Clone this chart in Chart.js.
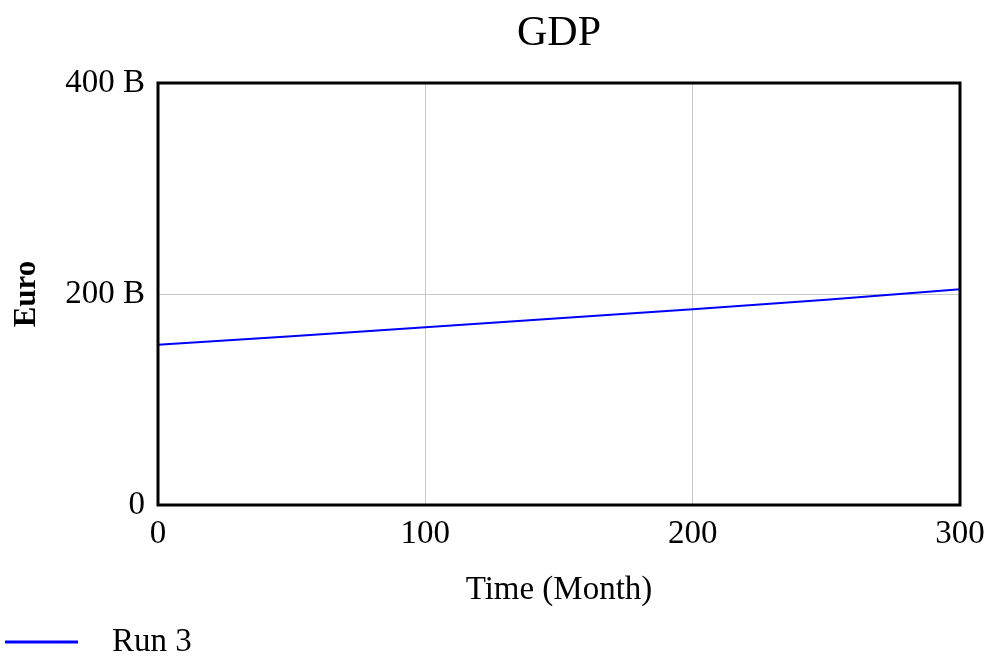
<!DOCTYPE html>
<html>
<head>
<meta charset="utf-8">
<script src="https://cdn.jsdelivr.net/npm/chart.js@4"></script>
<style>
  html, body { margin: 0; padding: 0; background: #fff; }
  #wrap { width: 984px; height: 656px; }
</style>
</head>
<body>
<div id="wrap"><canvas id="gdpChart" width="984" height="656"></canvas></div>
<script>
// valores (miles de millones de euro)
const months = [0, 50, 100, 150, 200, 250, 300];
const gdpRun3 = [152, 160, 168.5, 177, 185.5, 194.5, 204.5];
const xTicks = [0, 100, 200, 300];
const yTicks = [0, 200, 400];
const runLabel = 'Run 3';

const fontFamily = '"Liberation Serif", "Times New Roman", serif';

// marco negro alrededor del area del grafico
const frame = {
    id: 'frame',
    afterDatasetsDraw(chart) {
        const a = chart.chartArea;
        const ctx = chart.ctx;
        ctx.save();
        ctx.strokeStyle = '#000';
        ctx.lineWidth = 3;
        ctx.strokeRect(a.left, a.top, a.right - a.left, a.bottom - a.top);
        ctx.restore();
    }
};

// leyenda abajo a la izquierda
const bottomLegend = {
    id: 'bottomLegend',
    afterDraw(chart) {
        const ctx = chart.ctx;
        const ds = chart.data.datasets[0];
        ctx.save();
        ctx.strokeStyle = ds.borderColor;
        ctx.lineWidth = 3;
        ctx.beginPath();
        ctx.moveTo(5, 642);
        ctx.lineTo(78, 642);
        ctx.stroke();
        ctx.fillStyle = '#000';
        ctx.font = '33px ' + fontFamily;
        ctx.textBaseline = 'middle';
        ctx.fillText(ds.label, 112, 642);
        ctx.restore();
    }
};

const ctx = document.getElementById('gdpChart').getContext('2d');

new Chart(ctx, {
    type: 'line',
    data: {
        datasets: [{
            label: runLabel,
            data: months.map((m, i) => ({ x: m, y: gdpRun3[i] })),
            borderColor: '#0000ff',
            backgroundColor: '#0000ff',
            borderWidth: 2,
            pointRadius: 0,
            tension: 0
        }]
    },
    options: {
        responsive: false,
        animation: false,
        layout: { padding: { left: 0, right: 24, top: 0, bottom: 46 } },
        plugins: {
            legend: { display: false },
            tooltip: { enabled: false },
            title: {
                display: true,
                text: 'GDP',
                fullSize: false,
                color: '#000',
                font: { family: fontFamily, size: 42, weight: 'normal' },
                padding: { top: 9, bottom: 23.6 }
            }
        },
        scales: {
            x: {
                type: 'linear',
                min: 0,
                max: 300,
                afterBuildTicks: scale => { scale.ticks = xTicks.map(v => ({ value: v })); },
                afterFit: scale => {
                    scale.height = 105;
                    scale.paddingLeft = 0;
                    scale.paddingRight = 0;
                },
                grid: { color: '#c8c8c8', lineWidth: 1, drawTicks: false },
                border: { display: false },
                ticks: {
                    color: '#000',
                    padding: 10,
                    maxRotation: 0,
                    font: { family: fontFamily, size: 33 }
                },
                title: {
                    display: true,
                    text: 'Time (Month)',
                    color: '#000',
                    font: { family: fontFamily, size: 33 },
                    padding: { top: 0, bottom: 0 }
                }
            },
            y: {
                type: 'linear',
                min: 0,
                max: 400,
                afterBuildTicks: scale => { scale.ticks = yTicks.map(v => ({ value: v })); },
                afterFit: scale => {
                    scale.width = 158;
                    scale.paddingTop = 0;
                    scale.paddingBottom = 0;
                },
                grid: { color: '#c8c8c8', lineWidth: 1, drawTicks: false },
                border: { display: false },
                ticks: {
                    color: '#000',
                    padding: 13,
                    font: { family: fontFamily, size: 33 },
                    callback: v => v === 0 ? '0' : v + ' B'
                },
                title: {
                    display: true,
                    text: 'Euro',
                    color: '#000',
                    font: { family: fontFamily, size: 31, weight: 'bold' },
                    padding: { top: 8, bottom: 0 }
                }
            }
        }
    },
    plugins: [frame, bottomLegend]
});
</script>
</body>
</html>
